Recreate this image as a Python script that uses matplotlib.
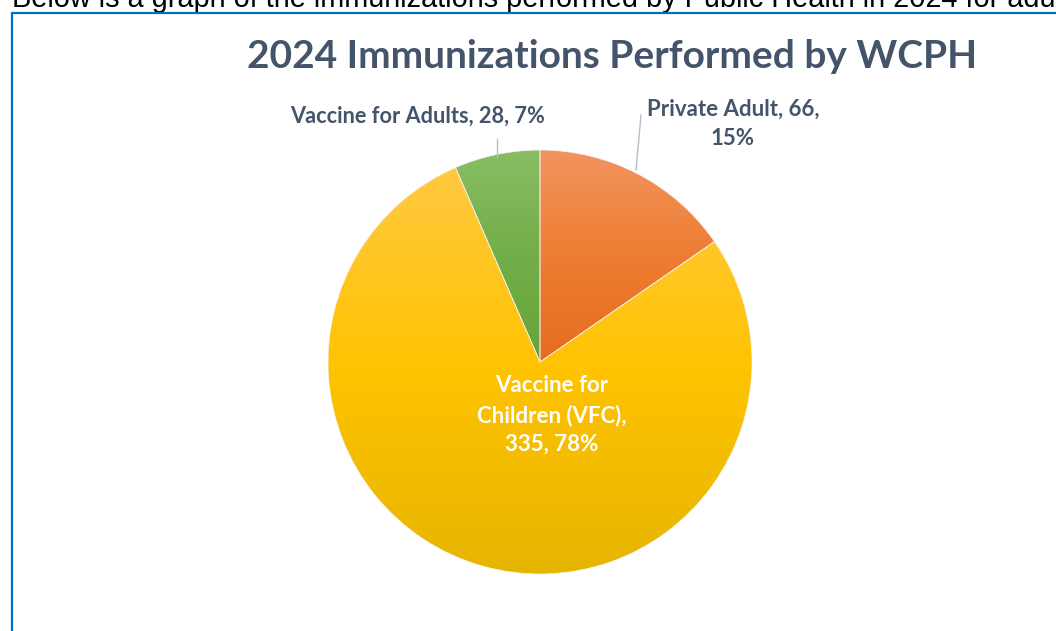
import textwrap
import numpy as np
import matplotlib
matplotlib.use("Agg")
import matplotlib.pyplot as plt
from matplotlib.colors import to_rgb

# ---- data ----
categories = ["Private Adult", "Vaccine for Children (VFC)", "Vaccine for Adults"]
values = [66, 335, 28]
title = "2024 Immunizations Performed by WCPH"
intro = "Below is a graph of the immunizations performed by Public Health in 2024 for adults and children."

# ---- styles ----
grad_colors = [
    ("#F29460", "#ED7D31", "#E66C1E"),
    ("#FFC942", "#FFC300", "#E6B500"),
    ("#88BE64", "#72AE48", "#65A53A"),
]
wrap_widths = [18, 15, 30]
W, H = 1056, 631
FONT = "Lato"
TXT = "#44546A"

fig = plt.figure(figsize=(W / 100, H / 100), dpi=100)
ax = fig.add_axes([0, 0, 1, 1])

def Y(py):
    return H - py

cx, cy, R = 540, Y(362), 212
wedges, _ = ax.pie(values, center=(cx, cy), radius=R, startangle=90,
                   counterclock=False, frame=True,
                   wedgeprops=dict(edgecolor="#F4F4F4", linewidth=0.5, facecolor="none"))

def grad(c_top, c_mid, c_bot, n=256):
    t = np.linspace(0, 1, n)[:, None]
    a, b, c = (np.array(to_rgb(x)) for x in (c_top, c_mid, c_bot))
    top = a + (b - a) * np.clip(t * 2, 0, 1)
    bot = b + (c - b) * np.clip(t * 2 - 1, 0, 1)
    arr = np.where(t <= 0.5, top, bot)
    return arr[:, None, :]

for w, cols in zip(wedges, grad_colors):
    ext = w.get_path().get_extents()
    im = ax.imshow(grad(*cols), extent=(ext.x0, ext.x1, ext.y0, ext.y1),
                   origin="upper", aspect="auto", interpolation="bilinear", zorder=1)
    im.set_clip_path(w)
    w.set_zorder(2)

total = sum(values)
labels = [textwrap.fill(f"{c}, {v}, {round(v / total * 100)}%", width=ww)
          for c, v, ww in zip(categories, values, wrap_widths)]

# label positions (pixel coords)
ax.text(733, Y(124), labels[0], ha="center", va="center", fontsize=16,
        fontweight="bold", color=TXT, family=FONT, linespacing=1.5)
ax.text(552, Y(415), labels[1], ha="center", va="center", fontsize=16,
        fontweight="bold", color="white", family=FONT, linespacing=1.45)
ax.text(418, Y(116), labels[2], ha="center", va="center", fontsize=15.7,
        fontweight="bold", color=TXT, family=FONT)

# leader lines
ax.plot([641, 636], [Y(115), Y(170)], color="#B4BECB", lw=1.0, zorder=3)
ax.plot([497, 497], [Y(139), Y(157)], color="#B4BECB", lw=1.0, zorder=3)

# title
ax.text(612, Y(57), title, ha="center", va="center", fontsize=28,
        fontweight="bold", color=TXT, family=FONT)

# intro text cut at top
ax.text(12, Y(7), intro, ha="left", va="baseline", fontsize=20.8,
        color="black", family="Liberation Sans")

# blue frame
ax.plot([11.5, 11.5, W + 5], [-5, Y(12.5), Y(12.5)], color="#0070C0", lw=1.6,
        solid_joinstyle="miter", zorder=4)

ax.set_xlim(0, W)
ax.set_ylim(0, H)
ax.set_aspect("auto")
ax.axis("off")

fig.savefig("out.png", dpi=100)
